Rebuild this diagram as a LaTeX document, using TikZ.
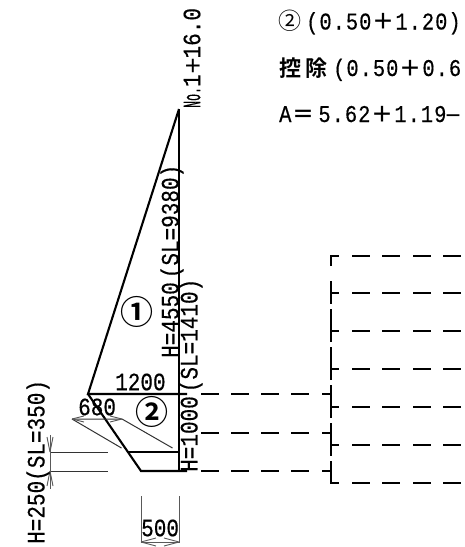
\documentclass[tikz,border=0pt]{standalone}
\usepackage{fontspec}
\setmonofont{Liberation Mono}[FakeStretch=0.84,FakeBold=0.4]
\newfontfamily\lfont{Liberation Mono}[FakeStretch=0.85,FakeBold=0.4,LetterSpace=4.2]
\newfontfamily\cjk{Noto Sans CJK JP}
\newfontfamily\cjkb{Noto Sans CJK JP Bold}
\newcommand{\FG}[2][24pt]{\makebox[#1][c]{\fontsize{22}{22}\selectfont\cjkb #2}}
\tikzset{
  thick line/.style={line width=2.1pt,black,line cap=butt},
  thin line/.style={line width=1pt,black!80},
  dim line/.style={line width=0.9pt,black!65},
  dash line/.style={line width=2pt,black},
  lbl/.style={inner sep=0pt,font=\fontsize{25}{25}\selectfont\ttfamily},
  vlbl/.style={lbl,rotate=90,anchor=west},
  hlbl/.style={lbl,anchor=west},
  toplbl/.style={inner sep=0pt,anchor=base west,font=\fontsize{24}{24}\lfont},
  circ/.style={inner sep=0pt,font=\fontsize{33}{33}\selectfont\cjk},
}
\begin{document}
\begin{tikzpicture}[x=1pt,y=-1pt]
\useasboundingbox (0,0) rectangle (465,547);
\clip (0,0) rectangle (465,547);
% section outline
\draw[thick line] (179,109) -- (179,471);
\draw[thick line] (179,109) -- (88,394) -- (187,394);
\draw[thick line] (88,394) -- (141,471) -- (187,471);
\draw[thick line] (128,452) -- (179,452);
% hatch / thin
\draw[thin line] (72,419) -- (122,419) -- (172.5,448);
\draw[thin line] (72,419) -- (121.5,448);
\draw[dim line] (72,419) -- (84,416) (72,419) -- (84,422);
\draw[dim line] (122,419) -- (110,416) (122,419) -- (110,422);
% left dimension
\draw[thin line] (50,452) -- (108,452) (50,471) -- (108,471);
\draw[dim line] (50,435) -- (50,489);
\draw[dim line] (50,452) -- (47,437) (50,452) -- (53,437);
\draw[dim line] (50,471) -- (47,486) (50,471) -- (53,486);
% bottom dimension
\draw[dim line] (141,496) -- (141,543) (179,496) -- (179,543);
\draw[dim line] (141,542) -- (179,542);
\draw[dim line] (141,542) -- (156,538) (141,542) -- (156,546);
\draw[dim line] (179,542) -- (164,538) (179,542) -- (164,546);
% dashes to the left of the bracket
\foreach \y in {394,433,471}{
  \draw[dash line] (201,\y) -- (219,\y) (231,\y) -- (249,\y) (261,\y) -- (279,\y) (291,\y) -- (309,\y) (322,\y) -- (331,\y);
}
% bracket
\draw[dash line] (331,266) -- (331,256) -- (339,256);
\draw[dash line] (331,281) -- (331,304) (331,293) -- (339,293);
\draw[dash line] (331,309) -- (331,342) (331,331) -- (339,331);
\draw[dash line] (331,347) -- (331,380) (331,369) -- (339,369);
\draw[dash line] (331,385) -- (331,418) (331,407) -- (339,407);
\draw[dash line] (331,423) -- (331,456) (331,445) -- (339,445);
\draw[dash line] (331,461) -- (331,483) -- (339,483);
\foreach \y in {256,293,331,369,407,445,483}{
  \draw[dash line] (352,\y) -- (370,\y) (382,\y) -- (400,\y) (413,\y) -- (431,\y) (443,\y) -- (461,\y);
}
% labels
\node[vlbl] (t1) at (172,358) {H=4550\hspace{4pt}(SL=9380)};
\node[vlbl] (t2) at (191,472) {H=1000\hspace{4pt}(SL=1410)};
\node[vlbl] (t3) at (38,544) {H=250(SL=350)};
\node[vlbl] (t4) at (192,108) {\scalebox{0.55}[1]{No.}1\makebox[16pt][c]{\fontsize{19}{19}\selectfont\cjkb ＋}16.0};
\node[hlbl] (t5) at (115,382) {1200};
\node[hlbl] (t6) at (78,407) {680};
\node[hlbl] (t7) at (141,528) {500};
\node[circ] (c1) at (137,312) {{\cjkb ①}};
\node[circ] (c2) at (152,412) {{\cjkb ②}};
\node[toplbl] (l1a) at (278,29.5) {\fontsize{23}{23}\selectfont\cjk ②};
\node[toplbl] (l1b) at (306,29.5) {(0.50\FG{＋}1.20)};
\node[toplbl] (l2a) at (279,76) {\fontsize{22}{22}\selectfont\cjkb 控\hspace{4pt}除};
\node[toplbl] (l2b) at (333,76) {(0.50\FG{＋}0.6};
\node[toplbl] (l3) at (279,122) {A\FG{＝}\hspace{3pt}5.62\FG{＋}1.19\FG[15pt]{\fontsize{18}{18}\selectfont －}};
\end{tikzpicture}
\end{document}
